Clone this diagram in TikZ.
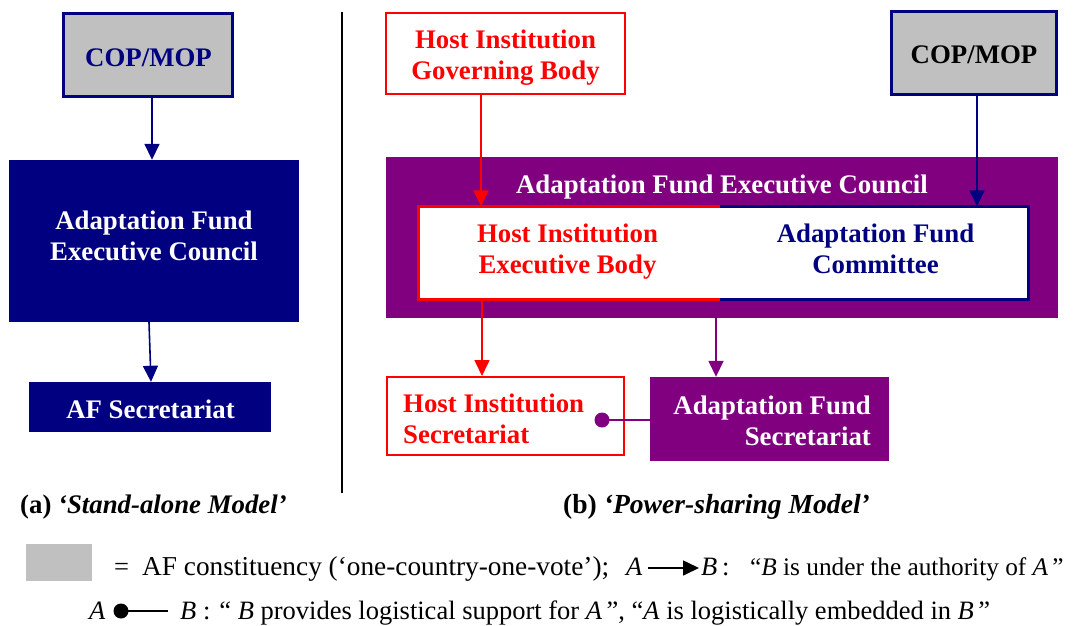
\documentclass[tikz,border=0pt]{standalone}
\usepackage{fontspec}
\setmainfont{Liberation Serif}
\usetikzlibrary{arrows.meta}
\definecolor{navyc}{RGB}{0,0,128}
\definecolor{purplec}{RGB}{128,0,128}
\definecolor{redc}{RGB}{255,0,0}
\definecolor{grayc}{RGB}{192,192,192}
\begin{document}
\begin{tikzpicture}[x=1pt,y=-1pt,
  every node/.style={inner sep=0pt},
  lbl/.style={font=\fontsize{26.8}{31}\selectfont\bfseries, align=center},
  arr/.style={line width=1.6pt, -{Triangle[width=15pt,length=16pt]}},
  legtext/.style={anchor=base west, font=\fontsize{26.5}{31}\selectfont}
]
\useasboundingbox (0,0) rectangle (1080,625);

% ---------- (a) stand-alone model ----------
\node[draw=navyc, line width=3pt, fill=grayc,
      minimum width=169pt, minimum height=83pt] (cop1) at (148,55) {};
\node[lbl, text=navyc] (cop1t) at (148.5,60.3) {\strut COP/MOP};
\node[fill=navyc, minimum width=290pt, minimum height=162pt] (afec1) at (154,241) {};
\node[lbl, text=white] (afec1t) at (154,238.3) {\strut Adaptation Fund\\\strut Executive Council};
\node[fill=navyc, minimum width=242pt, minimum height=50pt] (afsec1) at (150,407) {};
\node[lbl, text=white] (afsec1t) at (150.5,411.8) {\strut AF Secretariat};
\draw[arr, navyc] ([xshift=4pt]cop1.south) -- ([xshift=-2pt]afec1.north);
\draw[arr, navyc] ([xshift=-5pt]afec1.south) -- ([xshift=1pt]afsec1.north);

% separator
\coordinate (septop) at (342,12);
\coordinate (sepbot) at (342,493);
\draw[line width=2pt] (septop) -- (sepbot);

% ---------- (b) power-sharing model ----------
\node[draw=redc, line width=2pt, fill=white,
      minimum width=239pt, minimum height=81pt] (higb) at (505.5,53.5) {};
\node[lbl, text=redc] (higbt) at (505.5,57.3) {\strut Host Institution\\\strut Governing Body};
\node[draw=navyc, line width=3pt, fill=grayc,
      minimum width=165pt, minimum height=83pt] (cop2) at (974,53) {};
\node[lbl, text=black] (cop2t) at (974,56.8) {\strut COP/MOP};

\node[fill=purplec, minimum width=672pt, minimum height=161pt] (afec2) at (722,237.5) {};
\node[lbl, anchor=base, text=white] (afectitle) at (722,193) {Adaptation Fund Executive Council};

\node[fill=white, minimum width=301.5pt, minimum height=93pt] (hieb) at (569.25,253) {};
\node[fill=white, minimum width=308.5pt, minimum height=93pt] (afc) at (874.25,253) {};
\draw[redc, line width=3pt] (hieb.north east) -- (hieb.north west) -- (hieb.south west) -- (hieb.south east);
\draw[navyc, line width=3pt] (afc.north west) -- (afc.north east) -- (afc.south east) -- (afc.south west);
\node[lbl, text=redc] (hiebt) at (567.5,251.3) {\strut Host Institution\\\strut Executive Body};
\node[lbl, text=navyc] (afct) at (875.5,251.3) {\strut Adaptation Fund\\\strut Committee};

\node[draw=redc, line width=2pt, fill=white, minimum width=237pt, minimum height=78pt]
      (his) at (505.5,416) {};
\node[lbl, text=redc, align=left, anchor=west] (hist) at (403,421.3)
      {\strut Host Institution\\\strut Secretariat};
\node[fill=purplec, minimum width=239pt, minimum height=84pt] (afsec2) at (769.5,419) {};
\node[lbl, text=white, align=right, anchor=east] (afsec2t) at (871,423.3)
      {\strut Adaptation Fund\\\strut Secretariat};

\draw[arr, redc] (higb.south -| 481,0) -- (hieb.north -| 481,0);
\draw[arr, navyc] (cop2.south -| 977,0) -- (afc.north -| 977,0);
\draw[arr, redc] (hieb.south -| 482,0) -- (his.north -| 482,0);
\draw[arr, purplec] (afec2.south -| 716,0) -- (afsec2.north -| 716,0);

\coordinate (dot) at (602,420);
\draw[purplec, line width=1.6pt] (afsec2.west |- dot) -- (dot);
\fill[purplec] (dot) circle (7.5pt);

% ---------- captions ----------
\node[anchor=base west, font=\fontsize{26.8}{31}\selectfont\bfseries] (capa) at (20,513)
     {(a) \textit{‘Stand-alone Model’}};
\node[anchor=base west, font=\fontsize{27.6}{31}\selectfont\bfseries] (capb) at (563,513)
     {(b) \textit{‘Power-sharing Model’}};

% ---------- legend ----------
\node[fill=grayc, minimum width=66pt, minimum height=36.5pt] (legbox) at (59,562.3) {};
\node[legtext] (legeq) at (114,575) {=};
\node[legtext, font=\fontsize{27.3}{31}\selectfont] (leg1) at (142,575) {AF constituency (‘one-country-one-vote’);};
\node[legtext] (legA1) at (626,575) {\textit{A}};
\node[legtext] (legB1) at (701,575) {\textit{B}};
\node[legtext] (legC1) at (722,575) {:};
\node[legtext, font=\fontsize{25.3}{31}\selectfont] (legT1) at (750,575) {“\textit{B} is under the authority of \textit{A}\,”};
\coordinate (la1) at (648,568);
\coordinate (lb1) at (699,568);
\draw[line width=1.6pt, -{Triangle[width=15pt,length=16pt]}] (la1) -- (lb1);

\node[legtext] (legA2) at (89,619) {\textit{A}};
\coordinate (ld2) at (121,611);
\coordinate (le2) at (168,611);
\draw[line width=1.6pt] (ld2) -- (le2);
\fill (ld2) circle (7.5pt);
\node[legtext] (legB2) at (180,619) {\textit{B}};
\node[legtext] (legT2) at (203,619) {: “ \textit{B} provides logistical support for \textit{A}\,”, “\textit{A} is logistically embedded in \textit{B}\,”};
\end{tikzpicture}
\end{document}
